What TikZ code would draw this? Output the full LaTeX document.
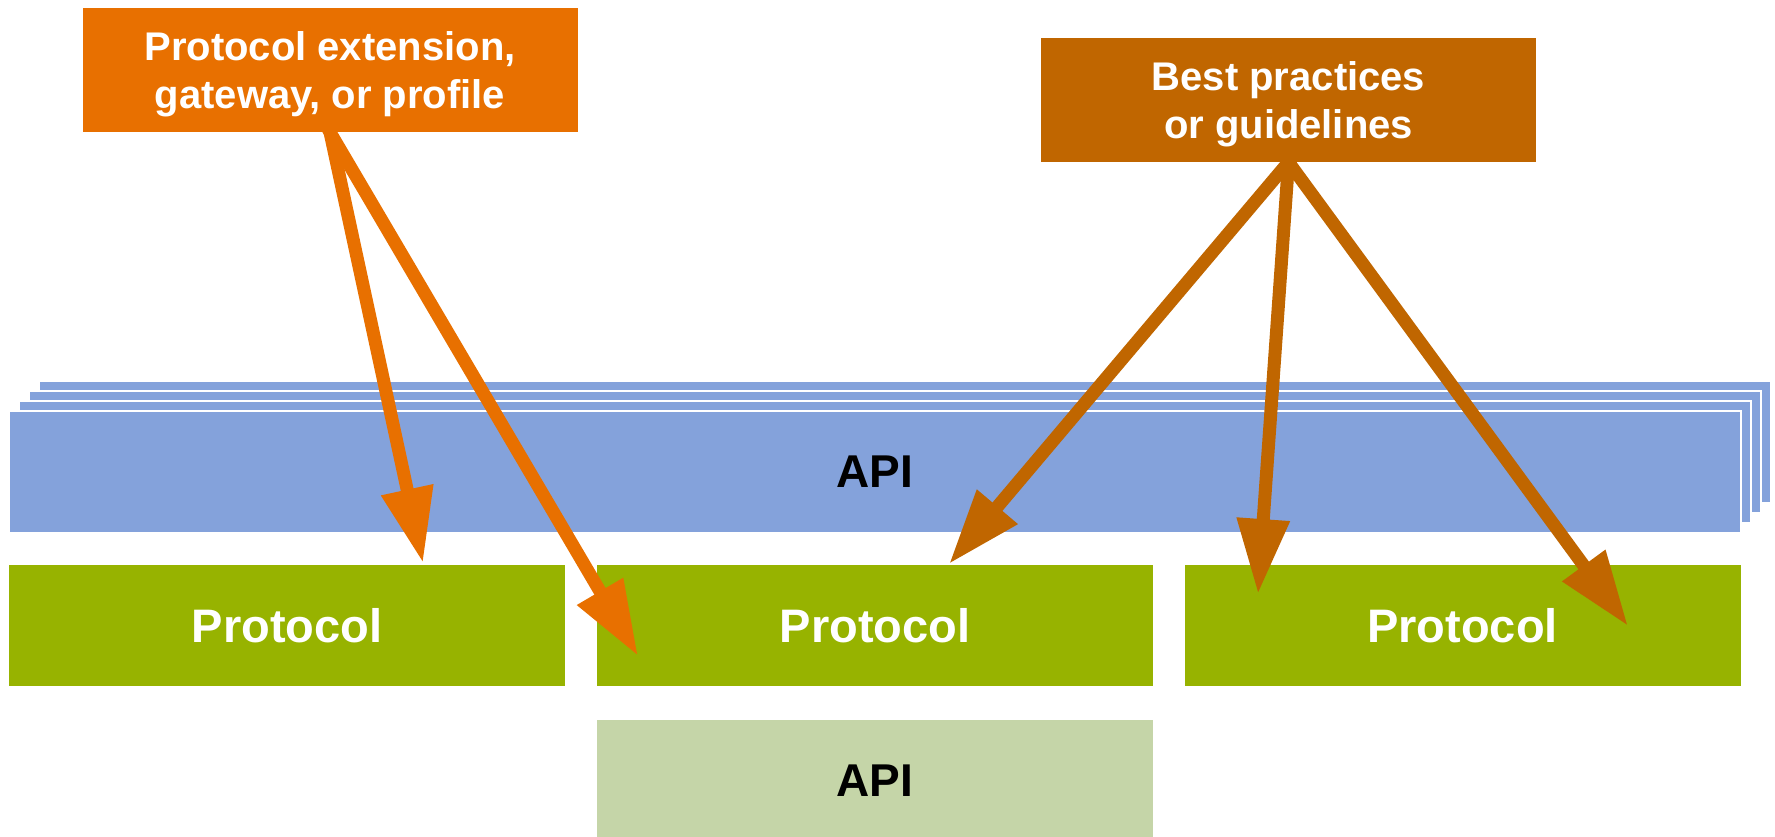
\documentclass[tikz,border=0pt]{standalone}
\usepackage{fontspec}
\setmainfont{Liberation Sans}
\usetikzlibrary{arrows.meta}

\definecolor{extorange}{HTML}{E87000}
\definecolor{bestbrown}{HTML}{C06600}
\definecolor{apiblue}{HTML}{84A2DB}
\definecolor{protogreen}{HTML}{97B300}
\definecolor{apigreen}{HTML}{C5D5A8}

\pgfdeclarelayer{front}
\pgfsetlayers{main,front}

\tikzset{
  topbox/.style={inner sep=0pt, minimum width=495pt, minimum height=124pt, align=center,
    text depth=0pt, text=white, font=\fontsize{40}{48}\selectfont\bfseries},
  apilayer/.style={fill=apiblue, draw=white, line width=1.2pt},
  apibox/.style={apilayer, inner sep=0pt, minimum width=1732pt, minimum height=122pt,
    font=\fontsize{46}{52}\selectfont\bfseries},
  protobox/.style={fill=protogreen, inner sep=0pt, minimum width=556pt, minimum height=121pt,
    text=white, font=\fontsize{47}{52}\selectfont\bfseries},
  fatarrow/.style={line width=13pt, shorten <=-10pt, -{Triangle[length=75pt, width=50pt]}}
}

\begin{document}
\begin{tikzpicture}[x=1pt, y=-1pt]
    \useasboundingbox (0,0) rectangle (1775,837);

    % stacked api layers
    \foreach \k in {3,2,1}
        \draw[apilayer] (9+10*\k, 411-10*\k) rectangle +(1732,122);
    \node[apibox] (api) at (875,472) {API};

    \node[protobox] (proto1) at (287,625.5) {Protocol};
    \node[protobox] (proto2) at (875,625.5) {Protocol};
    \node[protobox] (proto3) at (1462.5,625.5) {Protocol};

    \node[protobox, fill=apigreen, text=black, minimum height=122pt,
        font=\fontsize{46}{52}\selectfont\bfseries] (api2) at (875,781) {API};

    \begin{pgfonlayer}{front}
        \node[topbox, fill=extorange] (ext) at (330,70) {Protocol extension,\\gateway, or profile};
        \node[topbox, fill=bestbrown] (best) at (1288.5,100) {Best practices\\or guidelines};
    \end{pgfonlayer}

    \coordinate (t1) at (423,563);
    \coordinate (t2) at (638,656);
    \coordinate (t3) at (949,564);
    \coordinate (t4) at (1258,594);
    \coordinate (t5) at (1628,626);

    \draw[fatarrow, extorange] (ext.south) -- (t1);
    \draw[fatarrow, extorange] (ext.south) -- (t2);
    \draw[fatarrow, bestbrown] (best.south) -- (t3);
    \draw[fatarrow, bestbrown] (best.south) -- (t4);
    \draw[fatarrow, bestbrown] (best.south) -- (t5);
\end{tikzpicture}
\end{document}
